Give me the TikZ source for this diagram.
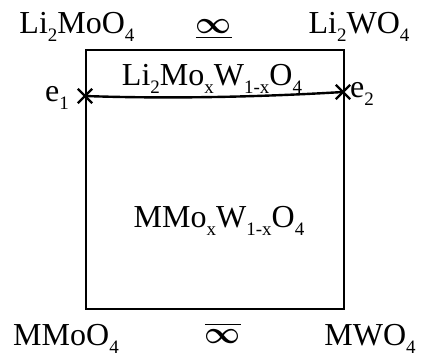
\documentclass[tikz,border=0pt]{standalone}
\usepackage{amsmath}
\usepackage{graphicx}
\usepackage{fontspec}
\setmainfont{Liberation Serif}
\usetikzlibrary{shapes.misc}
\newcommand{\sbx}[1]{\raisebox{-8pt}{\fontsize{19pt}{19pt}\selectfont #1}}
\tikzset{
  lbl/.style={font=\fontsize{32pt}{34pt}\selectfont, inner sep=0pt, anchor=base},
  inf/.style={inner sep=0pt, anchor=base},
  crossmark/.style={cross out, draw, line width=2.4pt, minimum size=12pt, inner sep=0pt},
  edge/.style={line width=2.4pt}
}
\begin{document}
\begin{tikzpicture}[x=1pt,y=-1pt]
\useasboundingbox (0,0) rectangle (423,356);
\node[draw, edge, minimum width=258pt, minimum height=259pt, inner sep=0pt, anchor=north west] (box) at (85,49) {};
\node[lbl] (tl) at (77,33) {Li\sbx{2}MoO\sbx{4}};
\node[lbl] (tr) at (359,33) {Li\sbx{2}WO\sbx{4}};
\node[inf] (tinf) at (214,33) {\resizebox{36pt}{!}{$\underline{\boldsymbol{\infty}}$}};
\node[lbl] (mid1) at (212,85) {Li\sbx{2}Mo\sbx{x}W\sbx{1-x}O\sbx{4}};
\node[lbl] (mid2) at (219,227) {MMo\sbx{x}W\sbx{1-x}O\sbx{4}};
\node[lbl] (bl) at (66,345) {MMoO\sbx{4}};
\node[lbl] (br) at (370,345) {MWO\sbx{4}};
\node[inf] (binf) at (223,343) {\resizebox{36pt}{!}{$\overline{\boldsymbol{\infty}}$}};
\node[lbl] (e1) at (57,101) {e\sbx{1}};
\node[lbl] (e2) at (362,97) {e\sbx{2}};
\node[crossmark] (x1) at (85,96) {};
\node[crossmark] (x2) at (343,92) {};
\draw[edge] (x1.center) .. controls (170,99) and (260,97) .. (x2.center);
\end{tikzpicture}
\end{document}
